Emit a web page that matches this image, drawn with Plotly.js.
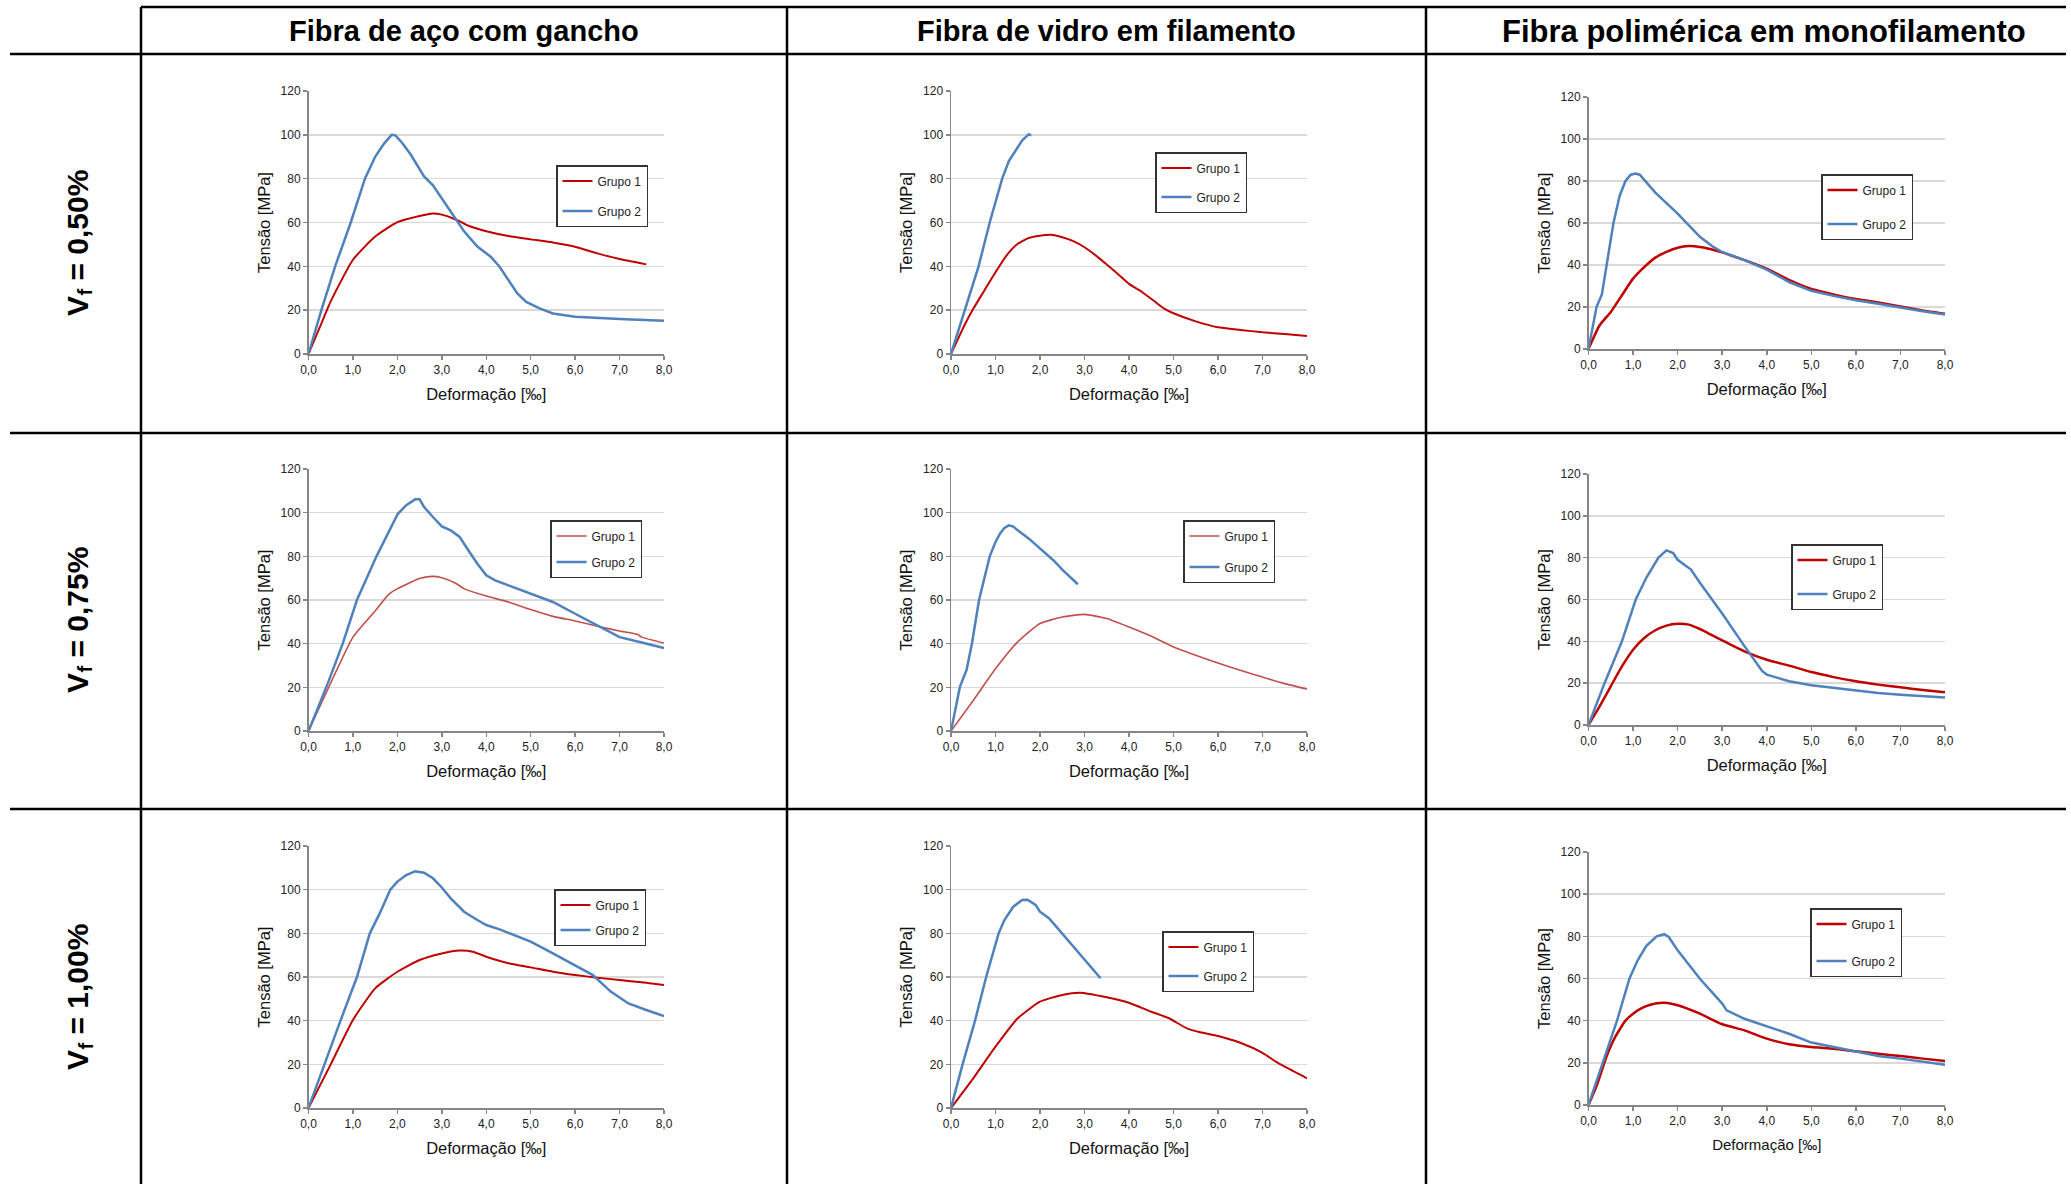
<!DOCTYPE html>
<html><head><meta charset="utf-8">
<script src="https://cdn.plot.ly/plotly-3.0.1.min.js"></script>
<style>html,body{margin:0;padding:0;background:#fff}#chart{width:2071px;height:1184px}</style>
</head><body><div id="chart"></div>
<script>
// ---------- text ----------
const columnTitles = ['Fibra de aço com gancho', 'Fibra de vidro em filamento', 'Fibra polimérica em monofilamento'];
const rowLabelBase = 'V';
const rowLabelSub = 'f';
const rowLabelValues = ['= 0,50%', '= 0,75%', '= 1,00%'];
const seriesNames = ['Grupo 1', 'Grupo 2'];
const xAxisTitle = 'Deformação [‰]';
const yAxisTitle = 'Tensão [MPa]';
const xTickVals = [0, 1, 2, 3, 4, 5, 6, 7, 8];
const xTickText = ['0,0', '1,0', '2,0', '3,0', '4,0', '5,0', '6,0', '7,0', '8,0'];
const yTickVals = [0, 20, 40, 60, 80, 100, 120];
const yTickText = ['0', '20', '40', '60', '80', '100', '120'];

// ---------- data (deformação ‰, tensão MPa) ----------
// Vf = 0,50 %
const aco050_g1_x = [0, 0.25, 0.5, 1.0, 1.5, 2.0, 2.5, 2.8, 3.0, 3.3, 3.6, 4.0, 4.5, 5.0, 5.5, 6.0, 6.5, 7.0, 7.6];
const aco050_g1_y = [0, 12, 24, 43, 53.6, 60.2, 63, 64.1, 63.6, 61.5, 58.5, 56, 53.8, 52.3, 50.9, 48.9, 45.9, 43.3, 40.9];
const aco050_g2_x = [0, 0.29, 0.6, 0.95, 1.27, 1.5, 1.7, 1.87, 1.95, 2.1, 2.3, 2.6, 2.8, 3.0, 3.2, 3.5, 3.8, 4.1, 4.3, 4.5, 4.7, 4.9, 5.2, 5.5, 6.0, 7.0, 8.0];
const aco050_g2_y = [0, 20, 40, 60, 80, 90, 96, 100, 99.8, 96.5, 91, 81, 77, 71, 65, 56, 49, 44.4, 39.8, 33.7, 27.6, 23.8, 20.8, 18.5, 17, 16, 15.2];

const vidro050_g1_x = [0, 0.3, 0.5, 0.75, 1.0, 1.25, 1.5, 1.75, 2.0, 2.25, 2.5, 2.75, 3.0, 3.25, 3.5, 3.75, 4.0, 4.3, 4.6, 4.8, 5.0, 5.5, 6.0, 6.5, 7.0, 7.5, 8.0];
const vidro050_g1_y = [0, 13, 20.6, 29, 37.3, 45, 50.3, 53, 54, 54.4, 53.3, 51.5, 48.7, 45, 40.8, 36.5, 32, 28.2, 23.6, 20.6, 18.6, 14.9, 12.2, 11, 9.9, 9.1, 8.2];
const vidro050_g2_x = [0, 0.31, 0.62, 0.87, 1.15, 1.3, 1.45, 1.6, 1.75, 1.8];
const vidro050_g2_y = [0, 20, 40, 60, 80, 88, 93, 97.5, 100.3, 99.7];

const poli050_g1_x = [0, 0.25, 0.5, 0.75, 1.0, 1.25, 1.5, 1.75, 2.0, 2.25, 2.5, 2.75, 3.0, 3.5, 4.0, 4.5, 5.0, 5.5, 6.0, 6.5, 7.0, 7.5, 8.0];
const poli050_g1_y = [0, 11.3, 17.6, 25.6, 33.5, 39, 43.5, 46.2, 48.2, 49, 48.6, 47.5, 46, 42.3, 38.3, 32.9, 28.6, 26, 23.8, 22.2, 20.3, 18.4, 16.8];
const poli050_g2_x = [0, 0.18, 0.3, 0.41, 0.56, 0.7, 0.83, 0.95, 1.05, 1.15, 1.5, 2.0, 2.5, 2.8, 3.0, 3.5, 4.0, 4.5, 5.0, 5.5, 6.0, 6.5, 7.0, 7.5, 8.0];
const poli050_g2_y = [0, 20, 26, 40, 60, 73, 80, 83, 83.6, 83, 74.5, 64.5, 53.4, 48.6, 46.2, 42.3, 37.8, 31.9, 27.7, 25.3, 23.2, 21.6, 19.7, 18, 16.4];

// Vf = 0,75 %
const aco075_g1_x = [0, 0.5, 1.0, 1.5, 1.8, 2.0, 2.5, 2.8, 3.0, 3.3, 3.5, 4.0, 4.5, 5.0, 5.5, 6.0, 6.5, 7.0, 7.4, 7.5, 8.0];
const aco075_g1_y = [0, 22, 43, 55, 62.5, 65.2, 69.8, 70.8, 70.2, 67.8, 65.2, 61.8, 59.1, 55.6, 52.5, 50.4, 48, 45.8, 44.3, 43, 40.3];
const aco075_g2_x = [0, 0.4, 0.77, 1.09, 1.53, 1.8, 2.01, 2.2, 2.4, 2.5, 2.6, 2.8, 3.0, 3.2, 3.4, 3.6, 3.8, 4.0, 4.2, 4.5, 5.0, 5.5, 6.0, 6.5, 7.0, 7.5, 8.0];
const aco075_g2_y = [0, 20, 40, 60, 80, 91, 99.5, 103.4, 106.1, 106.1, 102.6, 98, 93.7, 91.9, 88.9, 82.7, 76.6, 71.3, 69, 66.7, 62.9, 59.1, 53.7, 48.4, 43, 40.5, 38];

const vidro075_g1_x = [0, 0.5, 1.0, 1.5, 2.0, 2.5, 3.0, 3.5, 4.0, 4.5, 5.0, 5.5, 6.0, 6.5, 7.0, 7.5, 8.0];
const vidro075_g1_y = [0, 14, 28.5, 40.8, 49.2, 52.2, 53.4, 51.5, 47.6, 43.4, 38.5, 34.7, 31.1, 27.8, 24.7, 21.7, 19.2];
const vidro075_g2_x = [0, 0.2, 0.35, 0.47, 0.63, 0.75, 0.87, 1.0, 1.1, 1.2, 1.3, 1.4, 1.5, 1.75, 2.0, 2.3, 2.5, 2.7, 2.85];
const vidro075_g2_y = [0, 20.2, 28, 40, 60, 70, 80, 86.6, 90.4, 93, 94.2, 93.6, 91.9, 88.1, 83.5, 78.2, 73.9, 69.8, 67.2];

const poli075_g1_x = [0, 0.25, 0.5, 0.75, 1.0, 1.25, 1.5, 1.75, 2.0, 2.25, 2.5, 2.75, 3.0, 3.5, 4.0, 4.5, 5.0, 5.5, 6.0, 6.5, 7.0, 7.5, 8.0];
const poli075_g1_y = [0, 8.9, 18.5, 28, 36, 41.6, 45.3, 47.5, 48.4, 48, 45.9, 43.2, 40.5, 35.2, 31.2, 28.4, 25.3, 22.9, 20.9, 19.3, 18, 16.7, 15.6];
const poli075_g2_x = [0, 0.36, 0.75, 1.06, 1.3, 1.57, 1.75, 1.9, 2.0, 2.3, 2.5, 3.0, 3.5, 3.9, 4.0, 4.5, 5.0, 5.5, 6.0, 6.5, 7.0, 7.5, 8.0];
const poli075_g2_y = [0, 20, 40, 60, 70.5, 80, 83.5, 82.2, 79, 74.3, 68, 53.3, 37.7, 25.7, 24.1, 20.9, 19, 17.7, 16.6, 15.3, 14.5, 14, 13.2];

// Vf = 1,00 %
const aco100_g1_x = [0, 0.5, 1.0, 1.5, 2.0, 2.5, 3.0, 3.4, 3.7, 4.0, 4.5, 5.0, 5.5, 6.0, 6.5, 7.0, 7.5, 8.0];
const aco100_g1_y = [0, 20, 40.3, 54.8, 62.4, 67.8, 70.8, 72.1, 71.6, 69.3, 66.3, 64.4, 62.4, 60.9, 59.7, 58.6, 57.6, 56.3];
const aco100_g2_x = [0, 0.5, 0.72, 1.09, 1.38, 1.6, 1.84, 2.0, 2.2, 2.4, 2.6, 2.8, 3.0, 3.2, 3.5, 3.8, 4.0, 4.3, 4.6, 5.0, 5.5, 6.0, 6.4, 6.8, 7.2, 7.6, 8.0];
const aco100_g2_y = [0, 28, 40, 60, 80, 89, 100, 103.7, 106.7, 108.4, 107.8, 105.2, 101, 96, 89.9, 86.1, 83.8, 81.8, 79.5, 76.2, 70.8, 65.5, 60.9, 53.3, 47.9, 44.9, 42.1];

const vidro100_g1_x = [0, 0.5, 1.0, 1.5, 2.0, 2.5, 2.9, 3.5, 4.0, 4.5, 4.9, 5.3, 5.6, 6.0, 6.5, 7.0, 7.3, 7.5, 8.0];
const vidro100_g1_y = [0, 13.6, 28.1, 41.1, 48.7, 51.8, 52.8, 50.7, 48.2, 44.1, 41.1, 36.5, 34.7, 33, 29.9, 25.3, 21.2, 18.9, 13.6];
const vidro100_g2_x = [0, 0.26, 0.54, 0.79, 1.07, 1.2, 1.4, 1.6, 1.72, 1.9, 2.0, 2.2, 2.4, 3.0, 3.36];
const vidro100_g2_y = [0, 20, 40, 60, 80, 86.1, 92.2, 95.3, 95.4, 93, 89.9, 86.9, 82.3, 68, 59.4];

const poli100_g1_x = [0, 0.2, 0.4, 0.6, 0.83, 1.0, 1.25, 1.5, 1.7, 2.0, 2.5, 3.0, 3.5, 4.0, 4.5, 5.0, 5.5, 6.0, 6.5, 7.0, 7.5, 8.0];
const poli100_g1_y = [0, 10.1, 22.8, 32.3, 40, 43.3, 46.5, 48.1, 48.5, 47.3, 43.3, 38.3, 35.4, 31.5, 28.8, 27.5, 26.7, 25.5, 24.3, 23.2, 22, 20.9];
const poli100_g2_x = [0, 0.32, 0.64, 0.92, 1.1, 1.3, 1.53, 1.7, 1.8, 2.0, 2.5, 3.0, 3.1, 3.5, 4.0, 4.5, 5.0, 5.5, 6.0, 6.5, 7.0, 7.5, 8.0];
const poli100_g2_y = [0, 20, 40, 60, 68.5, 75.5, 80, 81, 79.7, 73.4, 59.9, 48.1, 44.9, 40.9, 37.3, 33.8, 29.6, 27.5, 25.1, 23.2, 22, 20.7, 19.1];

// panels in reading order (row by row)
const panels = [
  [aco050_g1_x, aco050_g1_y, aco050_g2_x, aco050_g2_y],
  [vidro050_g1_x, vidro050_g1_y, vidro050_g2_x, vidro050_g2_y],
  [poli050_g1_x, poli050_g1_y, poli050_g2_x, poli050_g2_y],
  [aco075_g1_x, aco075_g1_y, aco075_g2_x, aco075_g2_y],
  [vidro075_g1_x, vidro075_g1_y, vidro075_g2_x, vidro075_g2_y],
  [poli075_g1_x, poli075_g1_y, poli075_g2_x, poli075_g2_y],
  [aco100_g1_x, aco100_g1_y, aco100_g2_x, aco100_g2_y],
  [vidro100_g1_x, vidro100_g1_y, vidro100_g2_x, vidro100_g2_y],
  [poli100_g1_x, poli100_g1_y, poli100_g2_x, poli100_g2_y]
];

// ---------- geometry / style (pixels on a 2071 x 1184 page) ----------
const W = 2071, H = 1184;
const FONT = 'Arial, "Liberation Sans", sans-serif';
const colX = [[308.5, 664], [951, 1307], [1588.5, 1945]];
const boxY = [  // [top, bottom] per panel
  [91, 354], [91, 354], [97, 349],
  [469, 731], [469, 731], [474, 725],
  [846, 1108], [846, 1108], [852, 1105]
];
const legendPos = [ // [left, top, gap]
  [556, 165, 11], [1155, 152, 10], [1821, 174, 15],
  [550, 520, 7], [1183, 520, 12], [1791, 544, 15],
  [554, 889, 6], [1162, 931, 10], [1810, 908, 18]
];
const redColors = ['#C00000', '#C00000', '#C00000', '#C0504D', '#C0504D', '#C00000', '#C00000', '#C00000', '#C00000'];
const redWidths = [2, 2, 2.5, 1.6, 1.6, 2.5, 2, 2, 2.5];
const blueColor = '#4F81BD';
const xTitleSize = [16.5, 16.5, 16.5, 16.5, 16.5, 16.5, 16.5, 16.5, 15];
const headerSize = [29, 29, 31];

const px = v => v / W;
const py = v => 1 - v / H;

const traces = [];
const layout = {
  width: W, height: H,
  margin: {l: 0, r: 0, t: 0, b: 0},
  paper_bgcolor: '#ffffff', plot_bgcolor: '#ffffff',
  font: {family: FONT, color: '#222', size: 12},
  showlegend: true,
  shapes: [], annotations: []
};

panels.forEach((p, i) => {
  const n = i + 1;
  const sfx = n === 1 ? '' : String(n);
  const legKey = 'legend' + sfx;
  const col = i % 3;
  const [x0, x1] = colX[col];
  const [yt, yb] = boxY[i];

  traces.push({
    x: p[0], y: p[1], name: seriesNames[0], type: 'scatter', mode: 'lines',
    line: {color: redColors[i], width: redWidths[i], shape: 'spline', smoothing: 0.5},
    xaxis: 'x' + sfx, yaxis: 'y' + sfx, legend: legKey, legendgroup: 'a' + n
  });
  traces.push({
    x: p[2], y: p[3], name: seriesNames[1], type: 'scatter', mode: 'lines',
    line: {color: blueColor, width: 2.5, shape: 'linear'},
    xaxis: 'x' + sfx, yaxis: 'y' + sfx, legend: legKey, legendgroup: 'b' + n
  });

  layout['xaxis' + sfx] = {
    domain: [px(x0), px(x1)], anchor: 'y' + sfx,
    range: [0, 8], tickmode: 'array', tickvals: xTickVals, ticktext: xTickText,
    showgrid: false, zeroline: false, showline: true, linecolor: '#868686', linewidth: 1.5,
    ticks: 'outside', ticklen: 4, tickwidth: 1.5, tickcolor: '#868686',
    tickfont: {size: 12, color: '#222'},
    title: {text: xAxisTitle, font: {size: xTitleSize[i], color: '#111'}, standoff: 12},
    fixedrange: true
  };
  layout['yaxis' + sfx] = {
    domain: [py(yb), py(yt)], anchor: 'x' + sfx,
    range: [0, 120], tickmode: 'array', tickvals: yTickVals, ticktext: yTickText,
    showgrid: true, gridcolor: '#D9D9D9', gridwidth: 1.5, zeroline: false,
    showline: true, linecolor: '#868686', linewidth: 1.5,
    ticks: 'outside', ticklen: 4, tickwidth: 1.5, tickcolor: '#868686',
    tickfont: {size: 12, color: '#222'},
    title: {text: yAxisTitle, font: {size: 16.5, color: '#111'}, standoff: 6},
    fixedrange: true
  };
  const [lx, ly, gap] = legendPos[i];
  layout[legKey] = {
    x: px(lx), y: py(ly), xanchor: 'left', yanchor: 'top',
    bgcolor: '#ffffff', bordercolor: '#333333', borderwidth: 1.5,
    font: {size: 12, color: '#222', family: FONT},
    traceorder: 'grouped', tracegroupgap: gap, itemwidth: 30
  };
});

// table rules
const black = {color: '#000000', width: 2.5};
const hLines = [[141, 2066, 7], [10, 2066, 54], [10, 2066, 433], [10, 2066, 809]];
const vLines = [141, 787, 1426];
hLines.forEach(([a, b, y]) => layout.shapes.push({type: 'line', xref: 'paper', yref: 'paper', x0: px(a), x1: px(b), y0: py(y), y1: py(y), line: black}));
vLines.forEach(x => layout.shapes.push({type: 'line', xref: 'paper', yref: 'paper', x0: px(x), x1: px(x), y0: py(7), y1: py(1184), line: black}));

// column headers
const headerX = [464, 1106, 1764];
columnTitles.forEach((t, k) => layout.annotations.push({
  text: t, xref: 'paper', yref: 'paper', x: px(headerX[k]), y: py(31), xanchor: 'center', yanchor: 'middle',
  showarrow: false, font: {family: FONT, size: headerSize[k], weight: 'bold', color: '#000'}
}));
// row labels (rotated, read bottom to top): "V", subscript "f", "= x,xx%"
const rowY = [243, 620, 997];
const rowFont = {family: FONT, size: 30, weight: 'bold', color: '#000'};
const subFont = {family: FONT, size: 20, weight: 'bold', color: '#000'};
rowLabelValues.forEach((t, k) => {
  const c = rowY[k];
  layout.annotations.push({
    text: rowLabelBase, xref: 'paper', yref: 'paper', x: px(77), y: py(c + 63),
    xanchor: 'center', yanchor: 'middle', textangle: -90, showarrow: false, font: rowFont
  });
  layout.annotations.push({
    text: rowLabelSub, xref: 'paper', yref: 'paper', x: px(85), y: py(c + 49.5),
    xanchor: 'center', yanchor: 'middle', textangle: -90, showarrow: false, font: subFont
  });
  layout.annotations.push({
    text: t, xref: 'paper', yref: 'paper', x: px(77), y: py(c - 17.5),
    xanchor: 'center', yanchor: 'middle', textangle: -90, showarrow: false, font: rowFont
  });
});

Plotly.newPlot('chart', traces, layout, {displayModeBar: false, staticPlot: true});
</script></body></html>
